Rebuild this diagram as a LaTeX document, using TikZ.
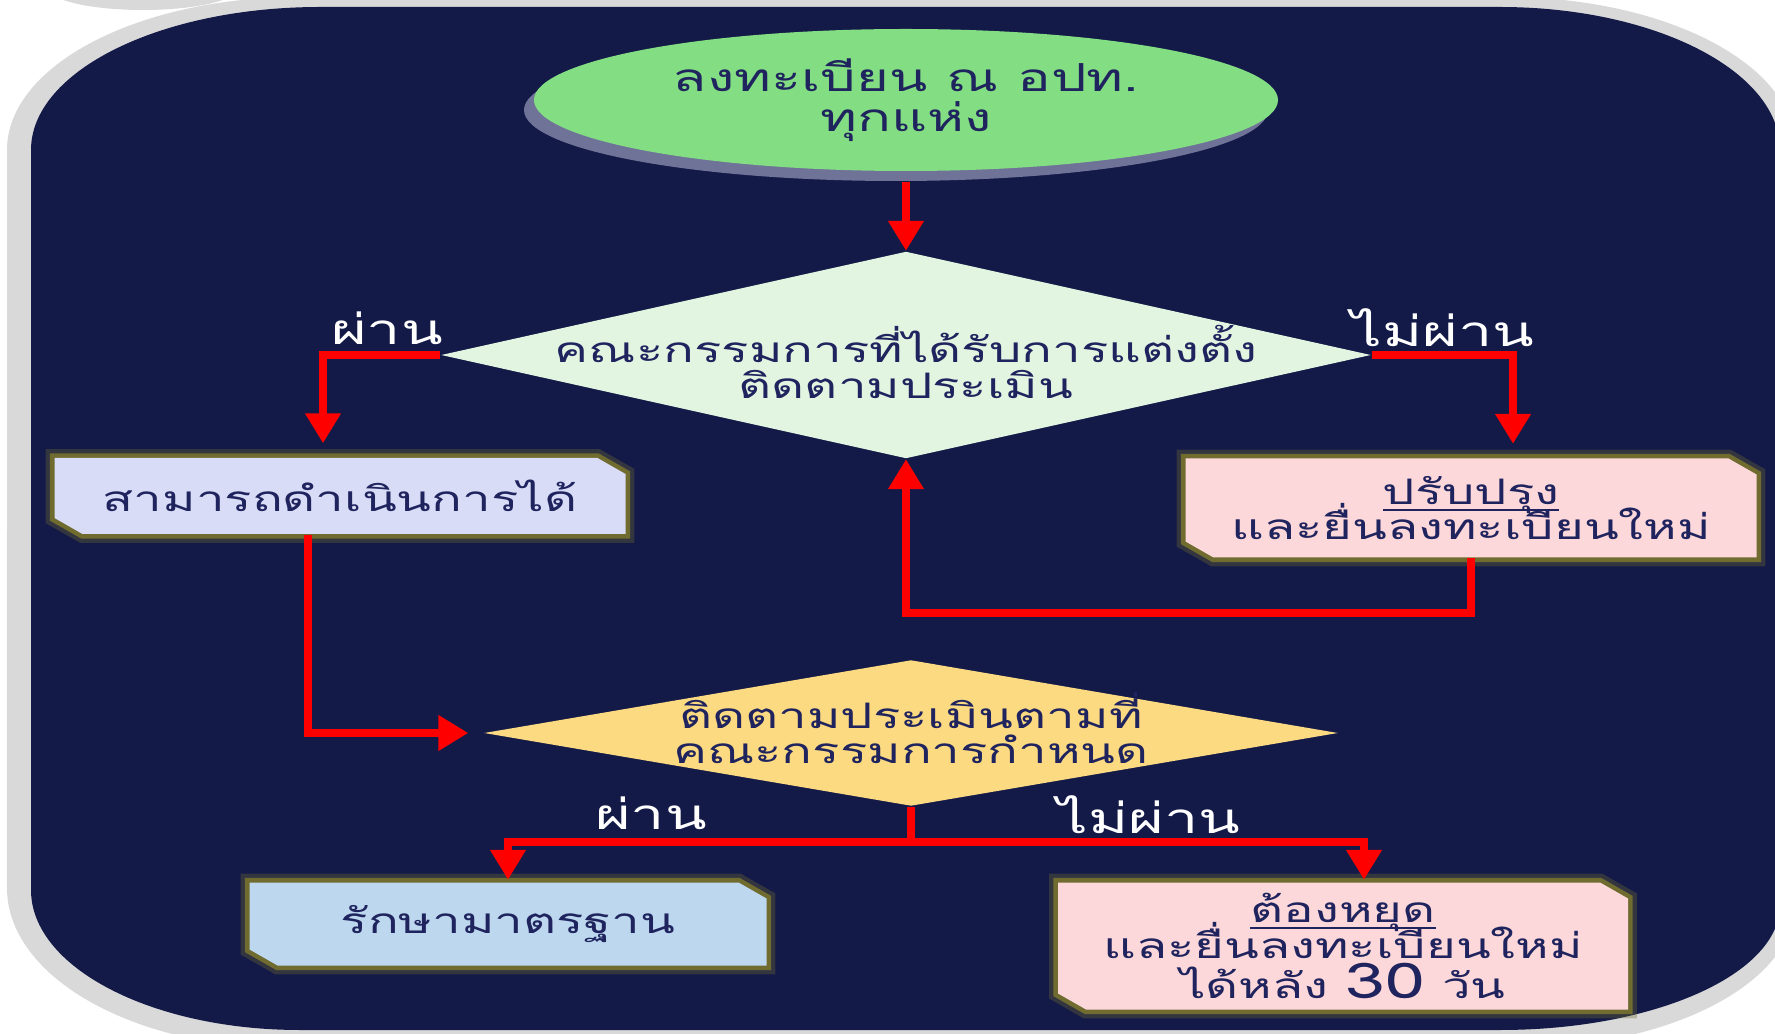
\documentclass[tikz,border=0pt]{standalone}
\usepackage{fontspec}
\newfontfamily\thaifont[Script=Thai,FakeStretch=1.45]{Loma}
\usetikzlibrary{shapes.geometric,arrows.meta,shadows}
\setlength{\lineskiplimit}{-20pt}
\newcommand\uln[1]{\leavevmode\setbox0\hbox{#1}\rlap{\color{inkc}\rule[-1.8pt]{\wd0}{0.5pt}}\box0}
% name, x, y, width, height, colour, text
\newcommand\snipbox[7]{%
    \fill[#6, preaction={draw=glowc, line width=5pt, opacity=.35}, preaction={draw=glowc, line width=2.6pt}]
        ({#2-#4/2},{#3+#5/2}) -- ({#2+#4/2-0.28},{#3+#5/2}) -- ({#2+#4/2},{#3+#5/2-0.16})
        -- ({#2+#4/2},{#3-#5/2}) -- ({#2-#4/2+0.28},{#3-#5/2}) -- ({#2-#4/2},{#3-#5/2+0.16}) -- cycle;
    \node[txt, minimum width=#4cm, minimum height=#5cm] (#1) at (#2,#3) {#7};}

\definecolor{navyc}{RGB}{19,26,72}
\definecolor{backc}{RGB}{217,217,217}
\definecolor{inkc}{RGB}{31,36,94}
\definecolor{startc}{RGB}{131,221,131}
\definecolor{haloc}{RGB}{112,115,152}
\definecolor{askc}{RGB}{225,245,225}
\definecolor{askbc}{RGB}{252,218,130}
\definecolor{okc}{RGB}{216,220,246}
\definecolor{failc}{RGB}{253,216,218}
\definecolor{keepc}{RGB}{189,215,238}
\definecolor{glowc}{RGB}{112,108,48}
\definecolor{flowc}{RGB}{255,0,0}

\tikzset{
    txt/.style={font=\thaifont\fontsize{10}{10}\selectfont, text=inkc, align=center, inner sep=0pt},
    lbl/.style={font=\thaifont\fontsize{12}{12}\selectfont, text=white, inner sep=0pt},
    flow/.style={draw=flowc, line width=2.3pt, -{Triangle[width=3.4mm,length=3mm]}},
    line/.style={draw=flowc, line width=2.3pt},
    start/.style={ellipse, inner sep=0pt, txt, font=\thaifont\fontsize{11}{11.4}\selectfont,
        drop shadow={shadow xshift=-1mm, shadow yshift=-1mm, fill=haloc, opacity=1}},
    ask/.style={diamond, inner sep=0pt}
}

\begin{document}
\begin{tikzpicture}
    \useasboundingbox (0,0) rectangle (17.75,10.33);
    \fill[backc] (0.07,8.83) arc[start angle=180,end angle=90,x radius=2.93,y radius=1.53] -- (15.05,10.36)
        arc[start angle=90,end angle=0,x radius=2.9,y radius=1.5] -- (17.95,1.30)
        arc[start angle=0,end angle=-90,x radius=2.8,y radius=1.45] -- (2.87,-0.15)
        arc[start angle=270,end angle=180,x radius=2.8,y radius=1.6] -- cycle;
    \fill[backc] (1.43,10.45) ellipse [x radius=0.95, y radius=0.22];
    \fill[navyc] (0.31,8.83) arc[start angle=180,end angle=90,x radius=2.89,y radius=1.43] -- (15.0,10.26)
        arc[start angle=90,end angle=0,x radius=2.8,y radius=1.43] -- (17.8,1.28)
        arc[start angle=0,end angle=-90,x radius=2.8,y radius=1.25] -- (3.0,0.03)
        arc[start angle=270,end angle=180,x radius=2.69,y radius=1.40] -- cycle;

    \node[start, minimum width=7.44cm, minimum height=1.42cm, fill=startc] (reg) at (9.06,9.33) {ลงทะเบียน ณ อปท.\\ทุกแห่ง};
    \node[ask, minimum width=9.3cm, minimum height=2.07cm, fill=askc,
        label={[txt, yshift=-0.7mm]center:{คณะกรรมการที่ได้รับการแต่งตั้ง\\ติดตามประเมิน}}] (check) at (9.06,6.78) {};
    \snipbox{go}{3.40}{5.37}{5.71}{0.76}{okc}{สามารถดำเนินการได้}
    \snipbox{fix}{14.71}{5.25}{5.71}{0.99}{failc}{\uln{ปรับปรุง}\\และยื่นลงทะเบียนใหม่}
    \node[ask, minimum width=8.54cm, minimum height=1.46cm, fill=askbc,
        label={[txt, yshift=0.5mm]center:{ติดตามประเมินตามที่\\คณะกรรมการกำหนด}}] (follow) at (9.11,3.00) {};
    \snipbox{keep}{5.08}{1.09}{5.17}{0.83}{keepc}{รักษามาตรฐาน}
    \snipbox{stop}{13.43}{0.87}{5.70}{1.27}{failc}{\uln{ต้องหยุด}\\และยื่นลงทะเบียนใหม่\\[0.5mm]ได้หลัง {\fontsize{14}{10}\selectfont 30} วัน}

    \node[lbl] (pass1) at (3.87,7.05) {ผ่าน};
    \node[lbl] (fail1) at (14.43,7.05) {ไม่ผ่าน};
    \node[lbl] (pass2) at (6.51,2.20) {ผ่าน};
    \node[lbl] (fail2) at (11.49,2.18) {ไม่ผ่าน};

    \draw[flow, shorten <=1mm] (reg.south) -- (check.north);
    \draw[flow, shorten >=1.4mm] (check.west) -| ([xshift=-1.7mm]go.north);
    \draw[flow, shorten >=1.4mm] (check.east) -| ([xshift=4.2mm]fix.north);
    \draw[flow] (fix.south) -- ++(0,-0.55) -| (check.south);
    \draw[flow, shorten >=1.5mm] ([xshift=-3.2mm]go.south) |- (follow.west);
    \draw[line] (follow.south) -- ++(0,-0.35) coordinate (split);
    \draw[flow, shorten >=0.2mm] (split) -| (keep.north);
    \draw[flow, shorten >=0.2mm] (split) -| ([xshift=2.1mm]stop.north);
\end{tikzpicture}
\end{document}
